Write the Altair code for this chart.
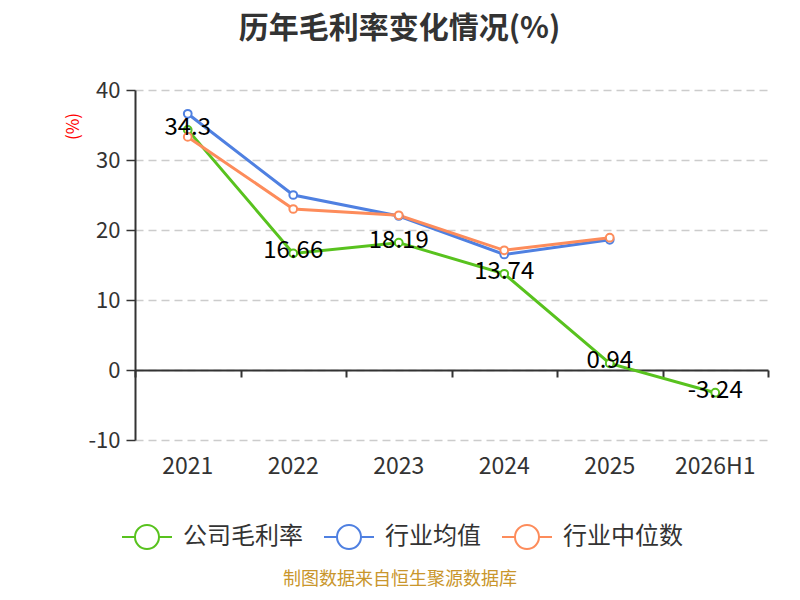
import pandas as pd
import altair as alt

YEARS = ["2021", "2022", "2023", "2024", "2025", "2026H1"]
SERIES = ["公司毛利率", "行业均值", "行业中位数"]

COMPANY = [34.3, 16.66, 18.19, 13.74, 0.94, -3.24]
IND_MEAN = [36.6, 25.0, 22.0, 16.5, 18.6]
IND_MEDIAN = [33.3, 23.0, 22.1, 17.1, 18.9]

TITLE = "历年毛利率变化情况(%)"
SOURCE = "制图数据来自恒生聚源数据库"

GREEN = "#58c21e"
BLUE = "#4f80e1"
ORANGE = "#fd8c5b"
GOLD = "#c9962c"
DARK = "#333333"
FONT = "Noto Sans CJK SC"

W, H = 633, 350
Y_MIN, Y_MAX = -10, 40

rows = []
for name, vals in zip(SERIES, [COMPANY, IND_MEAN, IND_MEDIAN]):
    for y, v in zip(YEARS, vals):
        rows.append({"year": y, "series": name, "value": v, "label": str(v)})
df = pd.DataFrame(rows)

x_scale = alt.Scale(domain=YEARS, paddingInner=0, paddingOuter=0)
y_scale = alt.Scale(domain=[Y_MIN, Y_MAX], nice=False)
color_scale = alt.Scale(domain=SERIES, range=[GREEN, BLUE, ORANGE])

LEGEND_SYMBOL = ("M-1,0L-0.48,0M0.48,0L1,0"
                 "M-0.48,0A0.48,0.48 0 1,1 0.48,0A0.48,0.48 0 1,1 -0.48,0Z")

y_enc = alt.Y("value:Q", scale=y_scale, title="(%)",
              axis=alt.Axis(values=[-10, 0, 10, 20, 30, 40],
                            labelExpr="replace(datum.label, '−', '-')",
                            domainColor=DARK, domainWidth=2,
                            tickColor=DARK, tickSize=9, tickWidth=1.5,
                            labelFontSize=22, labelColor=DARK, labelFont=FONT,
                            labelPadding=6,
                            gridColor="#cccccc", gridDash=[8, 5], gridWidth=1.5,
                            titleColor="red", titleFontSize=17, titleFont=FONT,
                            titleFontWeight="normal",
                            titleAngle=270, titleX=-62, titleY=36,
                            titleAlign="center", titleBaseline="middle"))

color_enc = alt.Color("series:N", scale=color_scale, sort=SERIES,
                      legend=alt.Legend(title=None, orient="none",
                                        legendX=-14, legendY=421,
                                        direction="horizontal",
                                        symbolType=LEGEND_SYMBOL, symbolSize=2500,
                                        symbolStrokeWidth=2, symbolFillColor="white",
                                        labelFontSize=24, labelColor=DARK, labelFont=FONT,
                                        labelOffset=10, columnPadding=17))

lines = (
    alt.Chart(df)
    .mark_line(strokeWidth=3)
    .encode(
        x=alt.X("year:N", scale=x_scale, sort=YEARS, title=None,
                axis=alt.Axis(domain=False, ticks=False, labelAngle=0,
                              labelFontSize=23, labelColor=DARK, labelFont=FONT,
                              labelPadding=15)),
        y=y_enc,
        color=color_enc,
    )
)

points = (
    alt.Chart(df)
    .mark_point(filled=False, fill="white", size=60, strokeWidth=2, opacity=1)
    .encode(
        x=alt.X("year:N", scale=x_scale, sort=YEARS, axis=None),
        y=y_enc,
        color=color_enc,
    )
)

zero_axis = (
    alt.Chart(df)
    .mark_point(opacity=0)
    .encode(
        x=alt.X("year:N", scale=x_scale, sort=YEARS, title=None,
                axis=alt.Axis(orient="bottom",
                              offset=-H * (0 - Y_MIN) / (Y_MAX - Y_MIN),
                              labels=False, domainColor=DARK, domainWidth=2,
                              tickColor=DARK, tickWidth=2, tickSize=7,
                              tickBand="extent")),
        y=alt.Y("value:Q", scale=y_scale),
    )
)

labels = (
    alt.Chart(df)
    .transform_filter(alt.datum.series == SERIES[0])
    .mark_text(fontSize=24, font=FONT, color="black", dy=-2)
    .encode(
        x=alt.X("year:N", scale=x_scale, sort=YEARS, axis=None),
        y=alt.Y("value:Q", scale=y_scale),
        text=alt.Text("label:N"),
    )
)

source = (
    alt.Chart(pd.DataFrame({"t": [SOURCE]}))
    .mark_text(fontSize=18, font=FONT, color=GOLD)
    .encode(x=alt.value(265), y=alt.value(490), text="t:N")
)

chart = (
    alt.layer(lines, points, labels, zero_axis, source)
    .resolve_axis(x="independent")
    .properties(
        width=W, height=H,
        autosize=alt.AutoSizeParams(type="none"),
        padding={"left": 127, "top": 82, "right": 24, "bottom": 152},
        title=alt.TitleParams(TITLE, fontSize=30, font=FONT, fontWeight="bold",
                              color=DARK, anchor="middle", dx=-52, offset=35),
    )
    .configure_view(strokeWidth=0)
)

chart.save("out.html", embed_options={"renderer": "svg", "actions": False})
